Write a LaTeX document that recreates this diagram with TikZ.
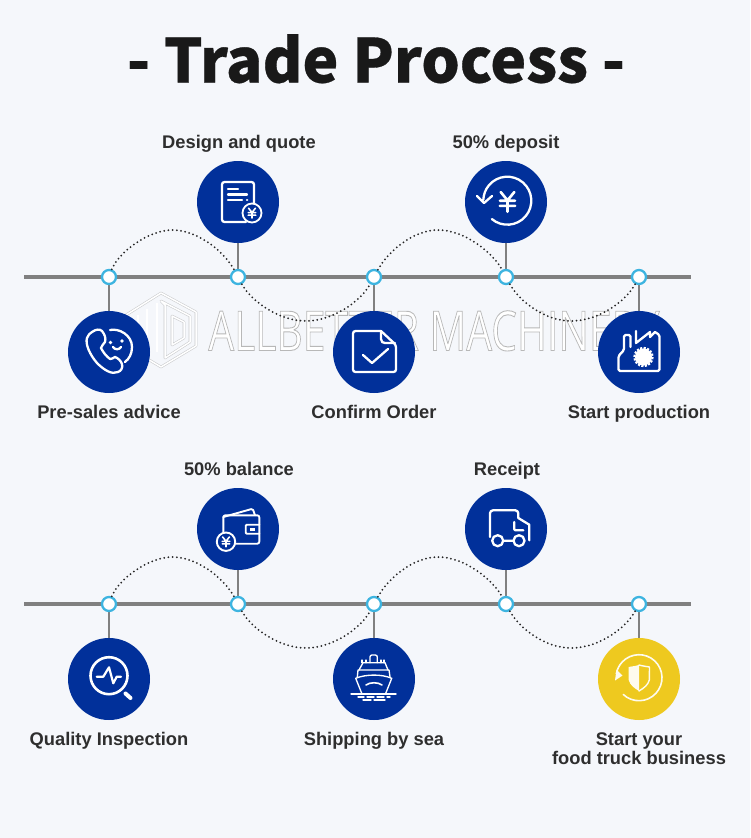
\documentclass[tikz,border=0pt]{standalone}
\usepackage{fontspec}
\setmainfont{Liberation Sans}
\newfontfamily\titlefont{Noto Sans CJK SC}[BoldFeatures={FakeBold=0.5}]
\newfontfamily\wmfont{Open Sans}
\usetikzlibrary{backgrounds}
\definecolor{pagebg}{HTML}{F5F7FB}
\definecolor{navy}{HTML}{01309A}
\definecolor{sun}{HTML}{EEC91F}
\definecolor{rail}{HTML}{808080}
\definecolor{ring}{HTML}{3DB4E0}
\definecolor{ink}{HTML}{2E2E2E}
\tikzset{
  x=1pt,y=-1pt,
  disc/.style={circle,fill=navy,minimum size=82pt,inner sep=0pt},
  sundisc/.style={circle,fill=sun,minimum size=82pt,inner sep=0pt},
  disc1/.style={disc},disc2/.style={disc},disc3/.style={disc},disc4/.style={disc},
  disc5a/.style={disc},disc5b/.style={sundisc},
  junction/.style={circle,draw=ring,line width=2.3pt,fill=white,minimum size=14pt,inner sep=0pt},
  railline/.style={draw=rail,line width=4pt},
  stem/.style={draw=rail,line width=2pt},
  dotcurve/.style={draw=black!85,line width=2pt,line cap=round,dash pattern=on 0pt off 4.2pt},
  steplabel/.style={font=\bfseries\fontsize{18.3}{19}\selectfont,text=ink,anchor=base,inner sep=0pt,align=center},
  ic/.style={draw=white,line width=2.3pt,line cap=round,line join=round},
  icthin/.style={draw=white,line width=1.35pt,line cap=round,line join=round},
  sunline/.style={draw=white!92!sun,line cap=round,line join=round},
  wmtext/.style={font=\wmfont\fontsize{55}{55}\selectfont,anchor=base,inner sep=0pt,xscale=.74,text=white},
  logoshade/.style={draw=black!35,line width=2.6pt,opacity=.55,line join=round},
  logoface/.style={draw=white,line width=1.5pt,line join=round},
}
\newcommand{\yenmark}[3]{% x, y, scale
  \begin{scope}[shift={(#1,#2)},scale=#3]
    \draw[ic,line width=1.6pt] (-3.6,-5)--(0,-.6)--(3.6,-5) (-4,-.4)--(4,-.4) (-4,2.3)--(4,2.3) (0,-.6)--(0,5.4);
  \end{scope}}
\begin{document}
\begin{tikzpicture}
\useasboundingbox (0,0) rectangle (750,838);

\node[font=\titlefont\bfseries\fontsize{60.5}{62}\selectfont,text=black!90,anchor=base,inner sep=0pt] (title) at (376,82.5) {- Trade Process -};

\foreach \r/\dy in {a/0,b/327}{
  \begin{scope}[yshift=-\dy pt]
    \coordinate (L\r) at (24,277);
    \coordinate (R\r) at (691,277);
    \node[junction] (j1\r) at (109,277) {};
    \node[junction] (j2\r) at (238,277) {};
    \node[junction] (j3\r) at (374,277) {};
    \node[junction] (j4\r) at (506,277) {};
    \node[junction] (j5\r) at (639,277) {};
    \coordinate (p1\r) at (172,230);
    \coordinate (p2\r) at (306,321);
    \coordinate (p3\r) at (438,230);
    \coordinate (p4\r) at (571,321);
    \node[disc1] (c1\r) at (109,352) {};
    \node[disc2] (c2\r) at (238,202) {};
    \node[disc3] (c3\r) at (374,352) {};
    \node[disc4] (c4\r) at (506,202) {};
    \node[disc5\r] (c5\r) at (639,352) {};
  \end{scope}
}

\begin{scope}[on background layer]
  \fill[pagebg] (0,0) rectangle (750,838);
  % watermark, under the discs
  \node[wmtext] (wmF) at (434,350.5) {\special{pdf: code q 2 Tr 0.9 w 0.72 0.72 0.72 RG}ALLBETTER MACHINERY\special{pdf: code Q}};
  \foreach \st in {logoshade,logoface}{
    \draw[\st] (161,293)--(196,312)--(196,346)--(161,367)--(126,346)--(126,315)--cycle;
    \draw[\st] (161,301)--(190,316)--(190,342)--(165,358)--(165,305)--cycle;
    \draw[\st] (172,316)--(184,322)--(184,338)--(172,345)--cycle;
    \draw[\st] (157,303)--(157,352) (147,309)--(147,346) (138,315)--(138,340) (132,318)--(132,342);
  }
  \foreach \r in {a,b}{
    \draw[railline] (L\r) -- (R\r);
    \foreach \i in {1,...,5}{\draw[stem] (c\i\r) -- (j\i\r);}
  }
\end{scope}

\foreach \r in {a,b}{
  \draw[dotcurve] (j1\r) .. controls +(9,-24) and +(-24,0) .. (p1\r)
                  .. controls +(27,0) and +(-13,-24) .. (j2\r);
  \draw[dotcurve] (j2\r) .. controls +(13,24) and +(-27,0) .. (p2\r)
                  .. controls +(27,0) and +(-13,24) .. (j3\r);
  \draw[dotcurve] (j3\r) .. controls +(13,-24) and +(-26,0) .. (p3\r)
                  .. controls +(27,0) and +(-13,-24) .. (j4\r);
  \draw[dotcurve] (j4\r) .. controls +(13,24) and +(-26,0) .. (p4\r)
                  .. controls +(28,0) and +(-13,24) .. (j5\r);
}

% labels
\node[steplabel] (t1) at (239,148) {Design and quote};
\node[steplabel] (t2) at (506,148) {50\% deposit};
\node[steplabel] (t3) at (109,418) {Pre-sales advice};
\node[steplabel] (t4) at (374,418) {Confirm Order};
\node[steplabel] (t5) at (639,418) {Start production};
\node[steplabel] (t6) at (239,475) {50\% balance};
\node[steplabel] (t7) at (507,475) {Receipt};
\node[steplabel] (t8) at (109,745) {Quality Inspection};
\node[steplabel] (t9) at (374,745) {Shipping by sea};
\node[steplabel,anchor=center] (t10) at (639,748.5) {Start your\\food truck business};

% icon: document with coin
\begin{scope}[shift={(c2a.center)}]
  \draw[ic,rounded corners=2.5pt] (8,20)--(-16,20)--(-16,-20)--(16,-20)--(16,2);
  \draw[ic] (-10,-13)--(0,-13) (-10,-7.5)--(9,-7.5) (-10,-1.7)--(4,-1.7) (9,-1.7)--(9.2,-1.7);
  \filldraw[ic,fill=navy,line width=1.8pt] (14,11) circle (9.5);
  \yenmark{14}{11}{.95}
\end{scope}

% icon: yen cycle
\begin{scope}[shift={(c4a.center)}]
  \draw[ic] (1.3,-1.3) ++(130:24) arc[start angle=130,end angle=-178,radius=24];
  \draw[ic] (-29,-6)--(-22,1)--(-14,-6);
  \begin{scope}[shift={(1.5,-.5)},scale=1.9]
    \draw[ic,line width=2.6pt] (-3.6,-5)--(0,-.6)--(3.6,-5) (-4,-.4)--(4,-.4) (-4,2.3)--(4,2.3) (0,-.6)--(0,5.4);
  \end{scope}
\end{scope}

% icon: phone and smile
\begin{scope}[shift={(c1a.center)}]
  \draw[ic] (-17,-20) .. controls (-13,-23) and (-9,-23) .. (-7,-21)
     .. controls (-4,-17) and (-3,-14) .. (-4,-10)
     .. controls (-5,-7) and (-8,-7) .. (-8,-4)
     .. controls (-6,0) and (-3,4) .. (1,7)
     .. controls (3,8) and (4,5) .. (6,5)
     .. controls (9,6) and (12,9) .. (13,12)
     .. controls (14,16) and (12,19) .. (9,20)
     .. controls (3,23) and (-5,18) .. (-12,11)
     .. controls (-19,3) and (-24,-8) .. (-22,-14)
     .. controls (-21,-17) and (-19,-19) .. (-17,-20) -- cycle;
  \draw[ic] (1,-22) .. controls (10,-24) and (23,-17) .. (23,-5) .. controls (23,2) and (20,7) .. (16,10);
  \fill[white] (1.5,-9.5) circle (1.8) (13,-11) circle (1.8);
  \draw[ic] (4,-5) .. controls (6,-2) and (10,-2) .. (12,-5);
\end{scope}

% icon: checked document
\begin{scope}[shift={(c3a.center)}]
  \draw[ic,rounded corners=2.5pt] (7,-21)--(-21,-21)--(-21,20)--(22,20)--(22,-7)--(7,-21);
  \draw[ic] (7,-21) -- (7,-13) .. controls (7,-10) and (9,-9) .. (11,-9) -- (21,-9);
  \draw[ic] (-11,3)--(-2,11)--(14,-3);
\end{scope}

% icon: factory with gear
\begin{scope}[shift={(c5a.center)}]
  \draw[ic,rounded corners=1.5pt] (-8.5,-5)--(-8.5,-17)--(-15,-17)--(-15,-2)--(-20.5,4)--(-20.5,19)--(20.5,19)--(20.5,-17)--(16,-20);
  \draw[ic] (-3,-21)--(-3,-9)--(11,-20)--(11,-15)--(16,-20);
  \fill[navy] (4.5,5) circle (12);
  \fill[white] (4.5,5) circle (8.5);
  \draw[white,line width=2pt,dash pattern=on 2.2pt off 1.4pt] (4.5,5) circle (9.2);
\end{scope}

% icon: magnifier
\begin{scope}[shift={(c1b.center)}]
  \draw[ic,line width=2.6pt] (0,-3.3) circle (18.5);
  \draw[ic,line width=4pt] (16.5,14.5)--(21.5,19);
  \draw[ic,line width=2.2pt] (-12.3,-2.3)--(-5.7,-2.3)--(0,-11.7)--(4.3,4.3)--(7.7,-2.3)--(12,-2.3);
\end{scope}

% icon: wallet
\begin{scope}[shift={(c2b.center)}]
  \draw[ic,rounded corners=2pt,line width=1.9pt] (-14.7,3)--(-14.7,-13.7)--(21.3,-13.7)--(21.3,14.7)--(-3,14.7);
  \draw[ic,rounded corners=1.5pt,line width=1.9pt] (-14.7,-12)--(14.7,-20.3)--(17,-13.7);
  \draw[ic,rounded corners=1pt,line width=1.9pt] (21.3,-4.3)--(7.7,-4.3)--(7.7,4.7)--(21.3,4.7);
  \fill[white] (12.2,-1.3) rectangle (17,1.7);
  \filldraw[ic,fill=navy,line width=1.9pt] (-12,12.7) circle (9.2);
  \yenmark{-12}{12.7}{.95}
\end{scope}

% icon: truck
\begin{scope}[shift={(c4b.center)}]
  \draw[ic,rounded corners=3pt] (-16,8)--(-16,-18.7)--(12.3,-18.7)--(12.3,-11);
  \draw[ic] (12.3,-11)--(23.3,-4.3)--(23.3,11.3);
  \draw[ic,rounded corners=1pt] (8.3,-7)--(8.3,1.3)--(17.3,1.3);
  \draw[ic] (-8.3,11.7) circle (5.5) (13,11.7) circle (5.5) (-2.8,11.7)--(7.5,11.7);
\end{scope}

% icon: ship
\begin{scope}[shift={(c3b.center)}]
  \draw[icthin] (-18.3,-.7) .. controls (-8,-5) and (8,-5) .. (17.7,-.7)
     -- (11.7,14.3) (-18.3,-.7) -- (-12.3,14.3);
  \draw[icthin] (-16.7,-2) -- (-16,-9) -- (15,-9) -- (16,-2);
  \draw[icthin] (-15,-9) -- (-11,-16.3) -- (11,-16.3) -- (14,-9);
  \draw[icthin] (-12,-16.3) -- (-12,-19) (-8,-16.3) -- (-8,-19) (7,-16.3)--(7,-19) (10,-16.3)--(10,-19);
  \draw[icthin,rounded corners=2pt] (-4,-16.3) -- (-4,-24) -- (3.3,-24) -- (3.3,-16.3);
  \draw[icthin] (-23,15)--(22,15);
  \draw[icthin] (-16,18)--(-10,18) (-7,18)--(0,18) (3,18)--(10,18) (13,18)--(16,18);
  \draw[icthin] (-11,21)--(-3,21) (0,21)--(11,21);
  \draw[icthin,line width=1.6pt] (-8,6) .. controls (-4,3) and (4,3) .. (8,6);
\end{scope}

% icon: shield cycle
\begin{scope}[shift={(c5b.center)}]
  \draw[sunline,line width=1.6pt] (0,-1.3) ++(133:23) arc[start angle=133,end angle=-170,radius=23];
  \fill[white!92!sun] (-24,1.5)--(-16.5,-3.5)--(-22.5,-9.5)--cycle;
  \fill[white!92!sun] (0,-14) .. controls (-4,-13) and (-7,-12.5) .. (-10.5,-12) -- (-10.3,1) .. controls (-9,6) and (-5,9) .. (0,12) -- cycle;
  \draw[sunline,line width=1.4pt] (0,-14) .. controls (4,-13) and (7,-12.5) .. (10.5,-12) -- (10.3,1) .. controls (9,6) and (5,9) .. (0,12);
\end{scope}
\end{tikzpicture}
\end{document}
